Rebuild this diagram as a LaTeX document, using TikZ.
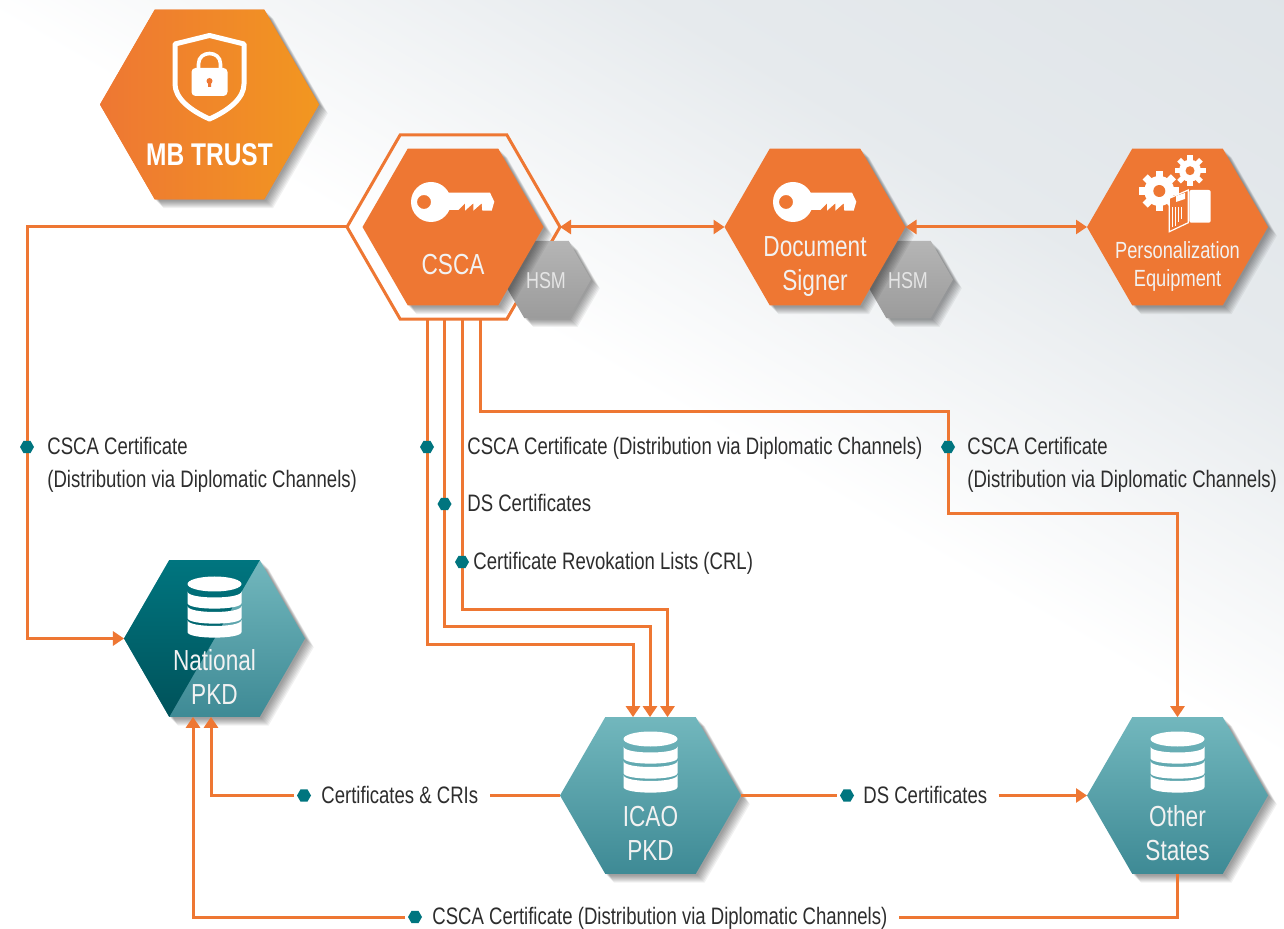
\documentclass[tikz,border=0pt]{standalone}
\usepackage{fontspec}
\setmainfont{Liberation Sans}[FakeStretch=0.78]
\usetikzlibrary{shapes.geometric, arrows.meta, positioning}
\definecolor{mborange}{HTML}{EE7733}
\definecolor{mbamber}{HTML}{F29720}
\definecolor{mbteal}{HTML}{00757F}
\definecolor{mbdeep}{HTML}{00525A}
\definecolor{mblight}{HTML}{72B7BD}
\definecolor{mbmid}{HTML}{3E8A95}
\definecolor{mbinktext}{HTML}{2D2D2D}
\definecolor{bgmid}{HTML}{E6EAED}
\definecolor{bgtop}{HTML}{DFE4E8}
\pgfdeclareverticalshading{bgfade}{100bp}{color(0bp)=(white); color(51.5bp)=(white); color(59.3bp)=(bgmid); color(67bp)=(bgtop); color(100bp)=(bgtop)}
\pgfdeclarelayer{front}
\pgfsetlayers{main,front}
\tikzstyle{shadowstep}=[preaction={fill=black,fill opacity=.055,transform canvas={shift={(#1,-#1)}}}]
\tikzstyle{softshadow}=[shadowstep=4.4pt,shadowstep=3.9pt,shadowstep=3.4pt,shadowstep=2.9pt,shadowstep=2.4pt,shadowstep=1.9pt,shadowstep=1.4pt,shadowstep=.9pt]
\tikzstyle{hex}=[regular polygon,regular polygon sides=6,inner sep=0pt,outer sep=0pt,minimum size=90.5pt]
\tikzstyle{hexorange}=[hex,softshadow,fill=mborange]
\tikzstyle{hexteal}=[hex,softshadow,top color=mblight,bottom color=mbmid]
\tikzstyle{hexgray}=[hex,softshadow,top color=black!29,bottom color=black!39,minimum size=44.5pt]
\tikzstyle{hexname}=[white!95!black,align=center,font=\fontsize{14.5}{17}\selectfont]
\tikzstyle{stud}=[hex,fill=mbteal,minimum size=7pt,outer sep=1.25pt]
\tikzstyle{lbl}=[anchor=west,inner xsep=5.5pt,inner ysep=0pt,text=mbinktext,align=left,text height=1.7ex,text depth=.25ex,font=\fontsize{11.9}{16.5}\selectfont]
\tikzstyle{wire}=[draw=mborange,line width=1.5pt,>={Triangle[width=7pt,length=5.5pt]}]
\newcommand{\keyicon}[1]{\begin{scope}[shift={(#1)}]
    \fill[white,even odd rule] (-22,-25) circle[radius=20] (-29,-25) circle[radius=7];
    \fill[white] (-5,-17) -- (5.3,-17) -- (12,-23.7) -- (12,-16.3) -- (20.3,-23.7) -- (20.3,-16.3) -- (28.7,-23.7) -- (29.3,-16.3) -- (38.7,-16.3) -- (41.3,-25.3) -- (37,-34.3) -- (-5,-34.3) -- cycle;
\end{scope}}
\newcommand{\dbicon}[1]{\begin{scope}[shift={(#1)}]
    \fill[white] (0,-56.5) ellipse[x radius=27,y radius=7.5];
    \foreach \ya/\yb in {-49/-37.5, -34.5/-22.5, -20.5/-8.5}
        \fill[white] (-27,\ya) .. controls (-27,\ya+8) and (27,\ya+8) .. (27,\ya) -- (27,\yb) .. controls (27,\yb+7.5) and (-27,\yb+7.5) .. (-27,\yb) -- cycle;
\end{scope}}
\newcommand{\gearicon}[5]{\begin{scope}[shift={(#1)}]
    \fill[white] (0,0) circle[radius=#2];
    \foreach \a in {0,45,...,315}
        \fill[white,rotate=\a] (-#4,0) rectangle (#4,#3);
    \fill[mborange] (0,0) circle[radius=#5];
\end{scope}}

\begin{document}
\begin{tikzpicture}[x=.5pt,y=-.5pt]
    \useasboundingbox (0,0) rectangle (1284,929);
    \begin{scope}
        \clip (0,0) rectangle (1284,929);
        \shade[shading=bgfade,shading angle=-30] (-458,-636) rectangle (1742,1564);
    \end{scope}

    % hexagons
    \node[hex,draw=mborange,line width=1.5pt,minimum size=106.5pt] (cscaring) at (453.5,227) {};
    \foreach \x/\n in {546.5/hsma, 908.5/hsmb}
        \node[hexgray] (\n) at (\x,279.5) {};
    \node[hexorange,left color=mborange,right color=mbamber,minimum size=109.5pt] (mbtrust) at (209.5,104.5) {};
    \foreach \x/\n in {453/csca, 815/signer, 1177.5/person}
        \node[hexorange] (\n) at (\x,227) {};
    \node[hexteal] (natpkd) at (214.5,638.5) {};
    \foreach \x/\n in {650.5/icao, 1177.5/others}
        \node[hexteal] (\n) at (\x,795.5) {};
    \shade[top color=mbteal,bottom color=mbdeep] (natpkd.corner 1) -- (natpkd.corner 2) -- (natpkd.corner 3) -- (natpkd.corner 4) -- cycle;

    % icons
    \begin{scope}[shift={(209.5,78)}]
        \draw[white,line width=2.5pt,line join=round] (0,-42.5) -- (34.5,-34) -- (34.5,6) .. controls (34.5,20) and (20,32) .. (0,41) .. controls (-20,32) and (-34.5,20) .. (-34.5,6) -- (-34.5,-34) -- cycle;
        \fill[white,rounded corners=2pt] (-18,-10) rectangle (18,18);
        \draw[white,line width=1.8pt] (-11,-10) -- (-11,-14) .. controls (-11,-28) and (11,-28) .. (11,-14) -- (11,-10);
        \fill[mborange] (0,3) circle[radius=3] (-1.5,3) -- (1.5,3) -- (1.5,9) -- (-1.5,9) -- cycle;
    \end{scope}
    \keyicon{453,227}
    \keyicon{815,227}
    \dbicon{214.5,640.5}
    \dbicon{650.5,795.5}
    \dbicon{1177.5,795.5}
    \gearicon{1190,170.7}{11}{15.5}{2.6}{4.5}
    \gearicon{1159.3,191}{15}{20}{3.6}{6}
    \begin{scope}[shift={(1177.5,227)}]
        \fill[white,rounded corners=1pt] (11.8,-37) rectangle (33.2,-4.3);
        \draw[white,fill=mborange,line width=.6pt] (-8.2,-28.7) -- (10.8,-37) -- (10.8,-4.3) -- (-8.2,4.7) -- cycle;
        \fill[white] (-1.5,-31) -- (7.5,-34) -- (7.5,-28) -- (-1.5,-25) -- cycle;
        \foreach \x/\y in {-5/0, -2/-1, 1/-5, 4/-8}
            \draw[white,line width=.5pt] (\x,-20) -- (\x,\y);
    \end{scope}

    % hexagon names
    \node[white,font=\fontsize{15.7}{17}\bfseries\selectfont] (mbname) at (209.5,155) {MB TRUST};
    \node[hexname] (cscaname) at (453,265) {CSCA};
    \node[hexname] (signername) at (815,267) {Document\\Signer};
    \node[hexname,font=\fontsize{11.7}{14}\selectfont] (personname) at (1177.5,266) {Personalization\\Equipment};
    \node[hexname] (natname) at (214.5,677) {National\\PKD};
    \node[hexname] (icaoname) at (650.5,833.5) {ICAO\\PKD};
    \node[hexname] (othersname) at (1177.5,833.5) {Other\\States};
    \foreach \x/\n in {546/hsmatext, 908/hsmbtext}
        \node[white!90!black,font=\fontsize{11.5}{13}\selectfont] (\n) at (\x,280.5) {HSM};

    % studs and their labels
    \begin{pgfonlayer}{front}
        \foreach \x/\y/\n in {27/447/studa, 427/447/studb, 444.5/504/studc, 462/562/studd, 948/447/stude, 304/795.5/studf, 847/795.5/studg, 415/917/studh}
            \node[stud] (\n) at (\x,\y) {};
    \end{pgfonlayer}
    \node[lbl,text height=,text depth=] (txta) at (36,465) {CSCA Certificate\\(Distribution via Diplomatic Channels)};
    \node[lbl] (txtb) at (456,447) {CSCA Certificate (Distribution via Diplomatic Channels)};
    \node[lbl] (txtc) at (456,504) {DS Certificates};
    \node[lbl] (txtd) at (462,562) {Certificate Revokation Lists (CRL)};
    \node[lbl,text height=,text depth=] (txte) at (956,465) {CSCA Certificate\\(Distribution via Diplomatic Channels)};
    \node[lbl] (txtf) at (310,795.5) {Certificates \& CRIs};
    \node[lbl] (txtg) at (852,795.5) {DS Certificates};
    \node[lbl] (txth) at (421,917) {CSCA Certificate (Distribution via Diplomatic Channels)};

    % connectors
    \coordinate (icaoa) at (633,645);
    \coordinate (icaob) at (650,627);
    \coordinate (icaoc) at (667.5,610);
    \coordinate (natina) at (193,917);
    \coordinate (natinb) at (211,795);
    \coordinate (bendupper) at (948,412);
    \coordinate (bendlower) at (1177.5,514);
    \coordinate (ringout) at (480,319);
    \draw[wire,->] (cscaring.west) -| (studa.center) |- (natpkd.west);
    \draw[wire,<->] (cscaring.east) -- (signer.west);
    \draw[wire,<->] (signer.east) -- (person.west);
    \foreach \s/\e in {studb/icaoa, studc/icaob, studd/icaoc}
        \draw[wire,->] (cscaring.south -| \s.center) -- (\s.center) |- (\e) -- (\e |- icao.north);
    \draw[wire,->] (cscaring.south -| ringout) |- (bendupper) -- (stude.center) |- (bendlower) -- (others.north);
    \draw[wire] (icao.west) -- (txtf.east);
    \draw[wire,->] (studf.west) -| (natinb |- natpkd.south);
    \draw[wire] (icao.east) -- (studg.west);
    \draw[wire,->] (txtg.east) -- (others.west);
    \draw[wire] (others.south) |- (txth.east);
    \draw[wire,->] (studh.west) -| (natina |- natpkd.south);
\end{tikzpicture}
\end{document}
